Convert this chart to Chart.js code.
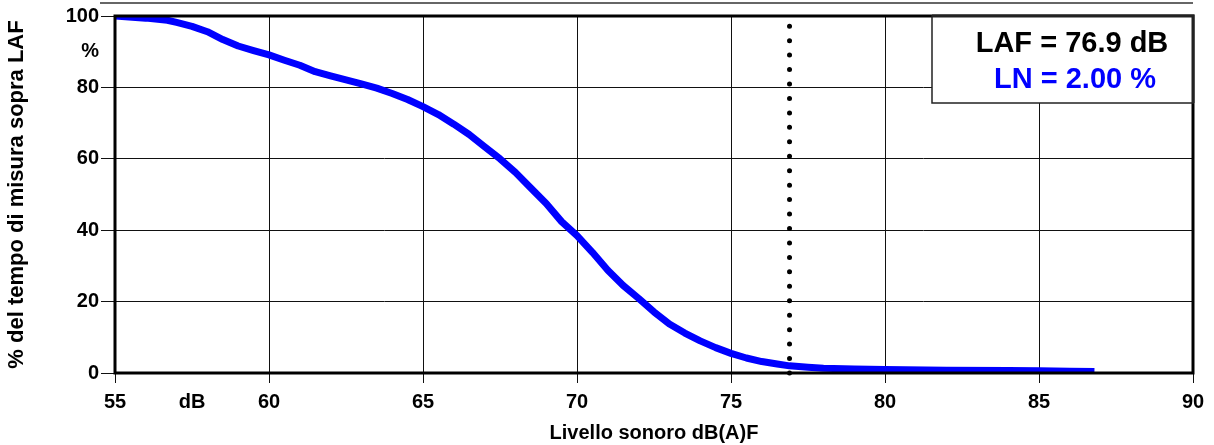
<!DOCTYPE html>
<html>
<head>
<meta charset="utf-8">
<script src="https://cdn.jsdelivr.net/npm/chart.js@4.4.1/dist/chart.umd.min.js"></script>
<style>
  html, body { margin: 0; padding: 0; background: #fff; }
  canvas { display: block; }
</style>
</head>
<body>
<canvas id="chart" width="1214" height="445"></canvas>
<script>
// cumulative level distribution: % of measuring time above each level
const levels = [
  55, 56, 56.7, 57, 57.5, 58, 58.5, 59, 59.5, 60, 60.5, 61, 61.5, 62, 62.5,
  63, 63.5, 64, 64.5, 65, 65.5, 66, 66.5, 67, 67.5, 68, 68.5, 69, 69.5, 70,
  70.5, 71, 71.5, 72, 72.5, 73, 73.5, 74, 74.5, 75, 75.5, 76, 76.5, 76.9,
  77.5, 78, 79, 80, 82, 84, 85, 86, 86.8,
];
const percentAbove = [
  100, 99.4, 98.8, 98.2, 97.1, 95.6, 93.4, 91.6, 90.3, 89.1, 87.6, 86.2, 84.4,
  83.2, 82.1, 81.0, 79.8, 78.3, 76.6, 74.6, 72.4, 69.7, 66.8, 63.4, 60.0, 56.2,
  51.8, 47.5, 42.4, 38.5, 33.8, 28.8, 24.5, 20.9, 17.1, 13.7, 11.2, 9.0, 7.1,
  5.5, 4.2, 3.2, 2.5, 2.0, 1.6, 1.3, 1.1, 1.0, 0.8, 0.7, 0.6, 0.5, 0.4,
];
const xTicks = [55, 60, 65, 70, 75, 80, 85, 90];
const yTicks = [0, 20, 40, 60, 80, 100];
const xUnit = "dB";
const yUnit = "%";
const LAF = 76.9;
const LN = 2.0;

const FONT = "'Liberation Sans', Arial, sans-serif";
const isUnitTick = (t) => t && t.unit;

// frame, info box and the rule under the heading
const decorations = {
  id: "decorations",
  afterDatasetsDraw(chart) {
    const { ctx, chartArea: a } = chart;
    ctx.save();
    ctx.strokeStyle = "#000";
    ctx.lineWidth = 3;
    ctx.strokeRect(a.left, a.top, a.right - a.left, a.bottom - a.top);

    ctx.strokeStyle = "#333";
    ctx.lineWidth = 1.5;
    ctx.beginPath();
    ctx.moveTo(100, 3);
    ctx.lineTo(a.right, 3);
    ctx.stroke();

    const bx = 932, by = a.top, bw = a.right - bx, bh = 103 - a.top;
    ctx.fillStyle = "#fff";
    ctx.fillRect(bx, by, bw, bh);
    ctx.strokeStyle = "#222";
    ctx.lineWidth = 1.5;
    ctx.strokeRect(bx, by, bw, bh);
    ctx.lineWidth = 3;
    ctx.beginPath();
    ctx.moveTo(bx, by);
    ctx.lineTo(a.right, by);
    ctx.lineTo(a.right, by + bh);
    ctx.stroke();

    ctx.font = "bold 29px " + FONT;
    ctx.textAlign = "center";
    ctx.textBaseline = "middle";
    ctx.fillStyle = "#000";
    ctx.fillText(`LAF = ${LAF.toFixed(1)} dB`, 1072, 44);
    ctx.fillStyle = "#0000ff";
    ctx.fillText(`LN = ${LN.toFixed(2)} %`, 1075, 80);
    ctx.restore();
  },
};

new Chart(document.getElementById("chart"), {
  type: "line",
  data: {
    datasets: [
      {
        data: levels.map((x, i) => ({ x, y: percentAbove[i] })),
        borderColor: "#0000ff",
        borderWidth: 7,
        borderJoinStyle: "round",
        pointRadius: 0,
        tension: 0,
        order: 2,
      },
      {
        // dotted marker at the measured LAF
        data: [{ x: LAF, y: 0 }, { x: LAF, y: 100 }],
        borderColor: "#000",
        borderWidth: 5,
        borderDash: [0, 14.45],
        borderCapStyle: "round",
        pointRadius: 0,
        clip: 6,
        order: 1,
      },
    ],
  },
  options: {
    responsive: false,
    animation: false,
    devicePixelRatio: 1,
    layout: { padding: { top: 16, right: 21, left: 0, bottom: 0 } },
    plugins: { legend: { display: false }, tooltip: { enabled: false } },
    scales: {
      x: {
        type: "linear",
        min: 55,
        max: 90,
        afterFit: (s) => { s.height = 72; },
        afterBuildTicks: (s) => {
          s.ticks = xTicks.map((v) => ({ value: v }));
          s.ticks.splice(1, 0, { value: 57.5, unit: xUnit });
        },
        ticks: {
          color: "#000",
          font: { family: FONT, size: 20, weight: "bold" },
          padding: 7,
          maxRotation: 0,
          autoSkip: false,
          callback: function (v, i, ticks) {
            return ticks[i].unit || String(v);
          },
        },
        grid: {
          color: (c) => (isUnitTick(c.tick) ? "transparent" : "#111"),
          lineWidth: 1,
          tickLength: 10,
        },
        border: { display: false },
        title: {
          display: true,
          text: "Livello sonoro dB(A)F",
          color: "#000",
          font: { family: FONT, size: 20, weight: "bold" },
          padding: { top: 0, bottom: 0 },
        },
      },
      y: {
        min: 0,
        max: 100,
        afterFit: (s) => { s.width = 115; },
        afterBuildTicks: (s) => {
          s.ticks = yTicks.map((v) => ({ value: v }));
          s.ticks.splice(5, 0, { value: 90, unit: yUnit });
        },
        ticks: {
          color: "#000",
          font: { family: FONT, size: 20, weight: "bold" },
          padding: 2,
          autoSkip: false,
          callback: function (v, i, ticks) {
            return ticks[i].unit || String(v);
          },
        },
        grid: {
          color: (c) => (isUnitTick(c.tick) ? "transparent" : "#111"),
          lineWidth: 1,
          tickLength: 14,
        },
        border: { display: false },
        title: {
          display: true,
          text: "% del tempo di misura sopra LAF",
          color: "#000",
          font: { family: FONT, size: 22, weight: "bold" },
          padding: { top: 3.5, bottom: 0 },
        },
      },
    },
  },
  plugins: [decorations],
});
</script>
</body>
</html>
